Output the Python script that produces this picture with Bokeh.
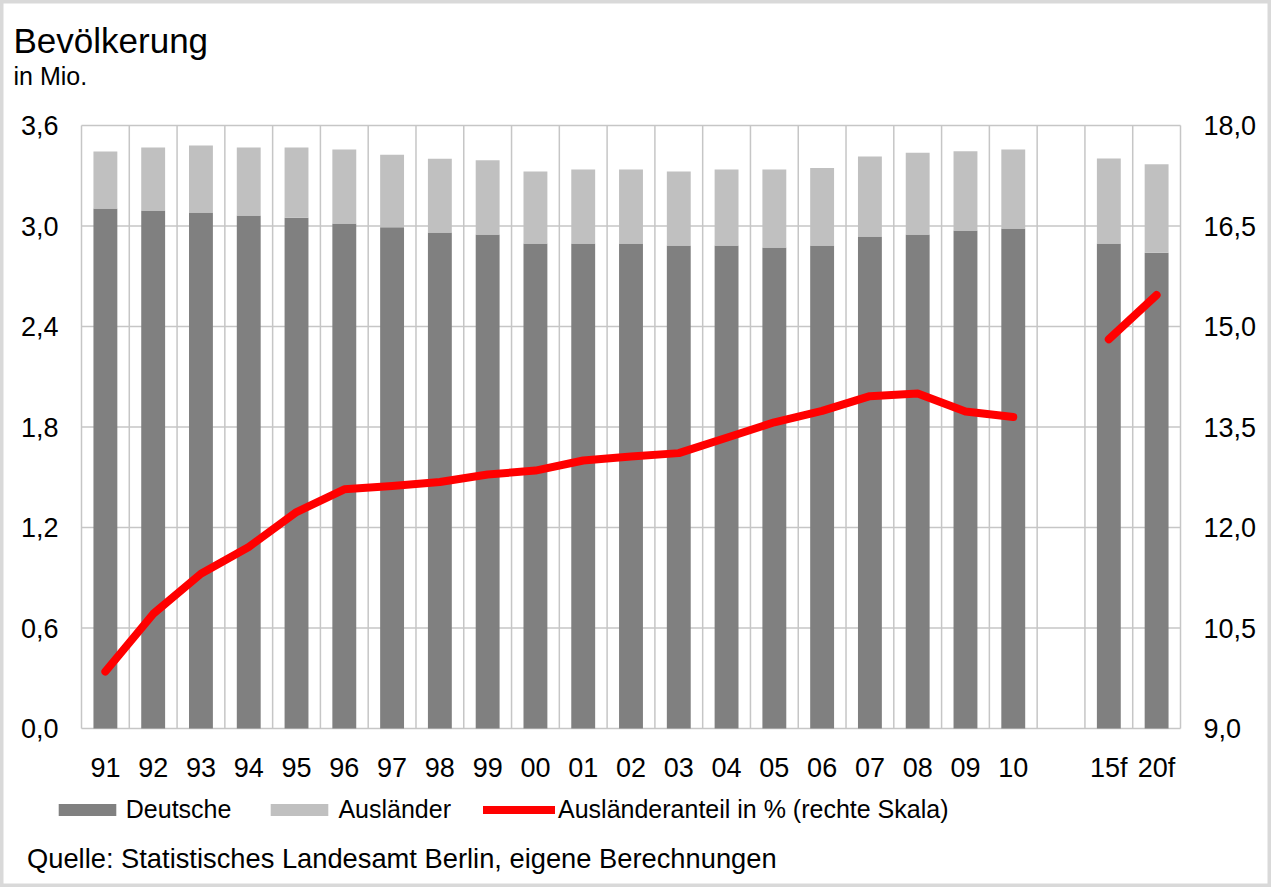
from bokeh.plotting import figure
from bokeh.models import (Range1d, LinearAxis, FixedTicker, Legend, LegendItem,
                          Label, ColumnDataSource)
from bokeh.embed import file_html
from bokeh.resources import INLINE

# ---------------- data ----------------
categories = ["91", "92", "93", "94", "95", "96", "97", "98", "99", "00",
              "01", "02", "03", "04", "05", "06", "07", "08", "09", "10",
              "", "15f", "20f"]
# values for the non-blank categories (in Mio.)
deutsche = [3.104, 3.093, 3.081, 3.063, 3.050, 3.015, 2.993, 2.961, 2.949, 2.896,
            2.896, 2.896, 2.884, 2.884, 2.872, 2.884, 2.937, 2.949, 2.973, 2.985,
            2.896, 2.840]
gesamt = [3.445, 3.469, 3.480, 3.469, 3.469, 3.457, 3.425, 3.401, 3.393, 3.325,
          3.337, 3.337, 3.325, 3.337, 3.337, 3.347, 3.415, 3.437, 3.447, 3.457,
          3.403, 3.369]
# Ausländeranteil in %
anteil = [9.85, 10.71, 11.31, 11.71, 12.23, 12.57, 12.62, 12.68, 12.79, 12.85,
          13.00, 13.06, 13.11, 13.34, 13.57, 13.74, 13.96, 14.00, 13.73, 13.65,
          14.81, 15.47]

left_ticks = [0.0, 0.6, 1.2, 1.8, 2.4, 3.0, 3.6]
left_labels = ["0,0", "0,6", "1,2", "1,8", "2,4", "3,0", "3,6"]
right_ticks = [9.0, 10.5, 12.0, 13.5, 15.0, 16.5, 18.0]
right_labels = ["9,0", "10,5", "12,0", "13,5", "15,0", "16,5", "18,0"]

series_names = ["Deutsche", "Ausländer", "Ausländeranteil in % (rechte Skala)"]
title_text = "Bevölkerung"
unit_text = "in Mio."
source_text = "Quelle: Statistisches Landesamt Berlin, eigene Berechnungen"

# ---------------- layout (pixels) ----------------
W, H = 1271, 887
PL, PR, PT, PB = 81, 1180, 125, 728      # plot area edges
FONT = "Liberation Sans"
DARK = "#808080"
LIGHT = "#c0c0c0"
GRID = "#c6c6c6"

n = len(categories)
sx = (PR - PL) / n
y_lo, y_hi = left_ticks[0], left_ticks[-1]
sy = (PB - PT) / (y_hi - y_lo)
r_lo, r_hi = right_ticks[0], right_ticks[-1]
sr = (PB - PT) / (r_hi - r_lo)

# ---------------- derived ----------------
centers = [i + 0.5 for i in range(n)]
bar_x = [centers[i] for i, c in enumerate(categories) if c]
auslaender = [round(g - d, 3) for g, d in zip(gesamt, deutsche)]
src = ColumnDataSource(dict(x=bar_x, deutsche=deutsche, auslaender=auslaender))

line_x, line_y = [], []
k = 0
for i, c in enumerate(categories):
    line_x.append(centers[i])
    if c:
        line_y.append(anteil[k])
        k += 1
    else:
        line_y.append(float("nan"))

p = figure(width=W, height=H,
           x_range=Range1d(-PL / sx, n + (W - PR) / sx),
           y_range=Range1d(y_lo - (H - PB) / sy, y_hi + PT / sy),
           output_backend="svg", toolbar_location=None,
           min_border=0)
p.extra_y_ranges = {"pct": Range1d(r_lo - (H - PB) / sr, r_hi + PT / sr)}
p.background_fill_color = "white"
p.border_fill_color = "white"
p.outline_line_color = "#d9d9d9"
p.outline_line_width = 6
p.grid.visible = False

# grid lines of the plot area (category boundaries and value ticks)
bounds = list(range(n + 1))
p.segment(x0=bounds, y0=[y_lo] * len(bounds), x1=bounds, y1=[y_hi] * len(bounds),
          line_color=GRID, line_width=1.5)
p.segment(x0=[0] * len(left_ticks), y0=left_ticks, x1=[n] * len(left_ticks),
          y1=left_ticks, line_color=GRID, line_width=1.5)

# bars
bars = p.vbar_stack(["deutsche", "auslaender"], x="x", width=0.5,
                    color=[DARK, LIGHT], line_color=None, source=src)

# line
ln = p.line(line_x, line_y, y_range_name="pct", line_color="#ff0000",
            line_width=8, line_cap="round", line_join="round")

# axes
def style_axis(ax):
    ax.axis_line_color = None
    ax.major_tick_line_color = None
    ax.minor_tick_line_color = None
    ax.major_tick_out = 0
    ax.major_tick_in = 0
    ax.major_label_text_font = FONT
    ax.major_label_text_font_size = "27px"
    ax.major_label_text_color = "black"

xa = p.xaxis[0]
xa.ticker = FixedTicker(ticks=centers)
xa.major_label_overrides = {centers[i]: c for i, c in enumerate(categories)}
xa.fixed_location = y_lo
style_axis(xa)
xa.major_label_standoff = 24

ya = p.yaxis[0]
ya.ticker = FixedTicker(ticks=left_ticks)
ya.major_label_overrides = dict(zip(left_ticks, left_labels))
ya.fixed_location = 0
style_axis(ya)
ya.major_label_standoff = 23

ra = LinearAxis(y_range_name="pct", ticker=FixedTicker(ticks=right_ticks),
                major_label_overrides=dict(zip(right_ticks, right_labels)),
                fixed_location=n)
style_axis(ra)
ra.major_label_standoff = 23
p.add_layout(ra, "right")

# legend
legend = Legend(items=[LegendItem(label=series_names[0], renderers=[bars[0]]),
                       LegendItem(label=series_names[1], renderers=[bars[1]]),
                       LegendItem(label=series_names[2], renderers=[ln])],
                orientation="horizontal", location=(50.8, 63.5),
                glyph_width=72, glyph_height=15, label_standoff=3, spacing=32,
                padding=0, margin=0, border_line_color=None,
                background_fill_alpha=0,
                label_text_font=FONT, label_text_font_size="25px",
                label_text_color="black")
p.add_layout(legend, "center")

# texts (screen units from the bottom-left corner)
p.add_layout(Label(x=13, y=H - 39.7, x_units="screen", y_units="screen",
                   text=title_text, text_font=FONT, text_font_size="35px",
                   text_color="black", text_baseline="alphabetic"))
p.add_layout(Label(x=13, y=H - 75, x_units="screen", y_units="screen",
                   text=unit_text, text_font=FONT, text_font_size="25px",
                   text_color="black", text_baseline="alphabetic"))
p.add_layout(Label(x=26.5, y=H - 857.7, x_units="screen", y_units="screen",
                   text=source_text, text_font=FONT, text_font_size="27.3px",
                   text_color="black", text_baseline="alphabetic"))

open("out.html", "w").write(file_html(p, INLINE))
